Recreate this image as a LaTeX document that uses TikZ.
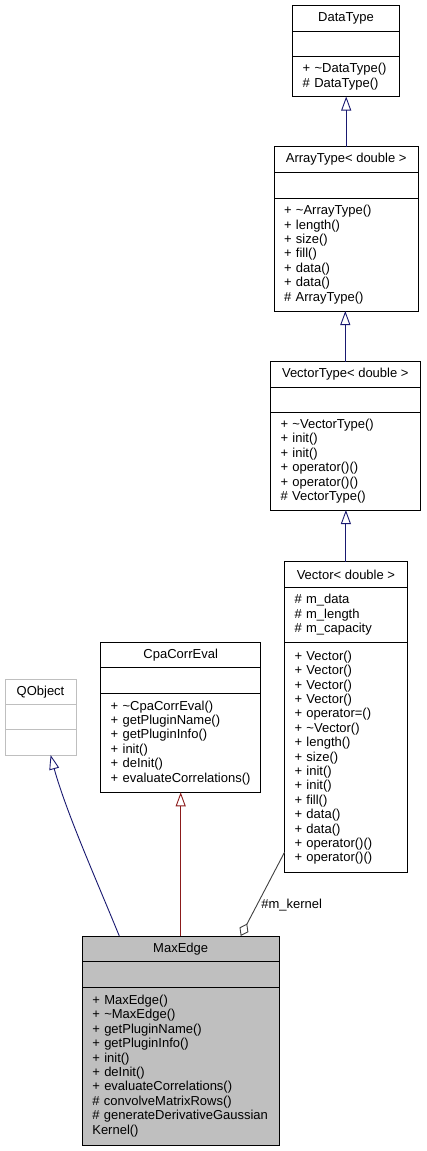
\documentclass[tikz,border=0pt]{standalone}
\usepackage{fontspec}
\setmainfont{Liberation Sans}
\usepackage{xcolor}
\usepackage{tikz}
\usetikzlibrary{arrows.meta, positioning, calc, bending}
\definecolor{EdgeNavy}{HTML}{191970}
\definecolor{EdgeRed}{HTML}{8B1A1A}
\definecolor{EdgeGrey}{HTML}{404040}
\definecolor{NodeGrey}{HTML}{BFBFBF}

\begin{document}
\begin{tikzpicture}[x=1pt, y=-1pt, every node/.style={font=\fontsize{13}{14.4}\selectfont}, >=Stealth]
  \tikzset{
    cls/.style={rectangle, draw=black, line width=0.9pt, fill=white, outer sep=0pt, inner sep=0pt, minimum height=25.5pt, anchor=north},
    part/.style={rectangle, draw=black, line width=0.9pt, fill=white, outer sep=0pt, inner xsep=10pt, inner ysep=0pt, align=left, anchor=north},
    ghost/.style={draw=NodeGrey},
    shaded/.style={fill=NodeGrey},
    inh/.style={-{Triangle[open, length=14pt, width=10pt, bend]}, line width=0.9pt, draw=EdgeNavy},
    agg/.style={-{Diamond[open, length=14pt, width=10pt]}, line width=0.9pt, draw=EdgeGrey}
  }
  \useasboundingbox (0,0) rectangle (427,1151);

  % DataType
  \node[cls, minimum width=106.6pt, minimum height=26pt] (dtype) at (346,5.5) {DataType};
  \node[part, text width=86.6pt, minimum height=25pt, below=0pt of dtype] (dtype-a) {};
  \node[part, text width=86.6pt, minimum height=40pt, below=0pt of dtype-a] (dtype-o) {+ \textasciitilde DataType()\\\# DataType()};

  % ArrayType< double >
  \node[cls, minimum width=144.3pt, minimum height=26pt] (atype) at (346.2,146.5) {ArrayType< double >};
  \node[part, text width=124.3pt, minimum height=25.5pt, below=0pt of atype] (atype-a) {};
  \node[part, text width=124.3pt, minimum height=113pt, below=0pt of atype-a] (atype-o) {+ \textasciitilde ArrayType()\\+ length()\\+ size()\\+ fill()\\+ data()\\+ data()\\\# ArrayType()};

  % VectorType< double >
  \node[cls, minimum width=149.5pt, minimum height=25.6pt] (vtype) at (345.3,361.7) {VectorType< double >};
  \node[part, text width=129.5pt, minimum height=25pt, below=0pt of vtype] (vtype-a) {};
  \node[part, text width=129.5pt, minimum height=97.7pt, below=0pt of vtype-a] (vtype-o) {+ \textasciitilde VectorType()\\+ init()\\+ init()\\+ operator()()\\+ operator()()\\\# VectorType()};

  % Vector< double >
  \node[cls, minimum width=122.7pt, minimum height=25.6pt] (vec) at (345.9,561.7) {Vector< double >};
  \node[part, text width=102.7pt, minimum height=55.4pt, below=0pt of vec] (vec-a) {\# m\_data\\\# m\_length\\\# m\_capacity};
  \node[part, text width=102.7pt, minimum height=230pt, below=0pt of vec-a] (vec-o) {+ Vector()\\+ Vector()\\+ Vector()\\+ Vector()\\+ operator=()\\+ \textasciitilde Vector()\\+ length()\\+ size()\\+ init()\\+ init()\\+ fill()\\+ data()\\+ data()\\+ operator()()\\+ operator()()};

  % QObject
  \node[cls, ghost, minimum width=71pt, minimum height=25.4pt] (qobj) at (40.5,679.3) {QObject};
  \node[part, ghost, text width=51pt, minimum height=25pt, below=0pt of qobj] (qobj-a) {};
  \node[part, ghost, text width=51pt, minimum height=25.3pt, below=0pt of qobj-a] (qobj-o) {};

  % CpaCorrEval
  \node[cls, minimum width=160pt, minimum height=25pt] (cpa) at (180.7,642.7) {CpaCorrEval};
  \node[part, text width=140pt, minimum height=25.3pt, below=0pt of cpa] (cpa-a) {};
  \node[part, text width=140pt, minimum height=99.3pt, below=0pt of cpa-a] (cpa-o) {+ \textasciitilde CpaCorrEval()\\+ getPluginName()\\+ getPluginInfo()\\+ init()\\+ deInit()\\+ evaluateCorrelations()};

  % MaxEdge
  \node[cls, shaded, minimum width=196.7pt] (medge) at (180.7,936) {MaxEdge};
  \node[part, shaded, text width=176.7pt, minimum height=25.5pt, below=0pt of medge] (medge-a) {};
  \node[part, shaded, text width=176.7pt, minimum height=158pt, below=0pt of medge-a] (medge-o) {+ MaxEdge()\\+ \textasciitilde MaxEdge()\\+ getPluginName()\\+ getPluginInfo()\\+ init()\\+ deInit()\\+ evaluateCorrelations()\\\# convolveMatrixRows()\\\# generateDerivativeGaussian\\Kernel()};

  \draw[inh] (atype.north) -- (atype.north |- dtype-o.south);
  \draw[inh] (vtype.north) -- (vtype.north |- atype-o.south);
  \draw[inh] (vec.north) -- (vec.north |- vtype-o.south);
  \draw[inh, draw=EdgeRed] (medge.north) -- (medge.north |- cpa-o.south);
  \draw[inh] ($(medge.north)+(-61.4,0)$) .. controls +(-27,-66) and +(10,45) .. ($(qobj-o.south)+(10.2,0)$);

  % member usage
  \draw[agg] (vec-o.237) -- ($(medge.north)+(60,0)$) node[pos=0.63, right=4pt, inner sep=0pt] {\#m\_kernel};
\end{tikzpicture}
\end{document}
